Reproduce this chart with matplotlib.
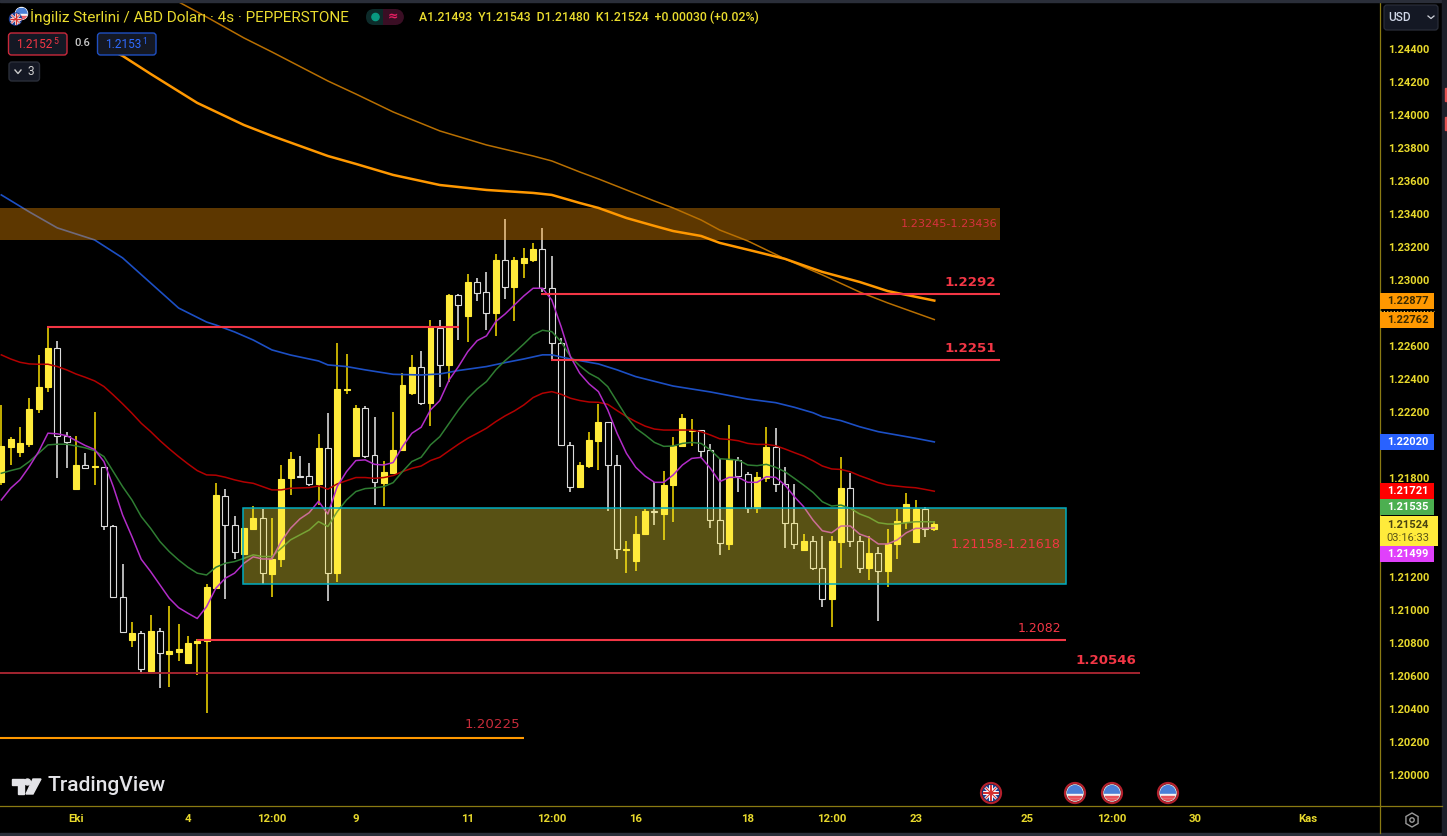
import matplotlib
matplotlib.use("Agg")
import matplotlib.pyplot as plt
from matplotlib.patches import Rectangle, Circle, FancyBboxPatch, Polygon, RegularPolygon

plt.rcParams['font.family'] = ['Roboto', 'DejaVu Sans']

# ---- data: prices in units of 0.00001 ----
open_ = [121775,121992,121957,122006,122218,122354,122590,122054,121733,121877,
         121866,121870,121511,121080,120819,120862,120633,120874,120736,120748,
         120678,120803,120815,121137,121695,121517,121339,121490,121559,121219,
         121310,121800,121814,121812,121763,121984,121227,122333,121935,122226,
         121943,121773,121834,121971,122317,122473,122258,122711,122489,122909,
         122784,122988,122928,122802,123122,122962,123104,123126,123188,122956,
         122620,122002,121745,121874,122028,122139,121882,121363,121298,121461,
         121599,121585,121756,121993,122086,122090,121971,121546,121403,121912,
         121823,121619,121803,121989,121765,121528,121366,121417,121257,121065,
         121415,121740,121417,121255,121344,121237,121403,121536,121415,121611,121493]
close = [121996,122036,122014,122220,122356,122592,122054,122022,121877,121864,
         121872,121511,121080,120866,120864,120641,120874,120738,120750,120763,
         120803,120815,121141,121701,121517,121351,121500,121559,121228,121310,
         121796,121919,121810,121763,121984,121228,122339,122339,122226,121935,
         121775,121836,121971,122368,122473,122258,122715,122489,122911,122849,
         122988,122922,122804,123124,122962,123124,123136,123188,122954,122620,
         122004,121745,121878,122032,122139,121882,121369,121369,121464,121599,
         121593,121758,121995,122167,122090,121965,121546,121409,121914,121815,
         121619,121807,121989,121763,121526,121403,121417,121255,121065,121417,
         121742,121421,121255,121346,121237,121401,121542,121641,121611,121492,121524]
high = [122244,122048,122109,122285,122546,122716,122635,122079,122054,121955,
        122202,121870,121519,121278,120928,120876,120971,120894,121023,120916,
        120845,120823,121157,121773,121737,121573,121500,121632,121614,121559,
        121879,121961,121933,121891,122067,122198,122618,122552,122242,122238,
        122174,121907,122204,122436,122546,122570,122760,122760,122918,122918,
        123037,123013,123049,123160,123372,123140,123197,123227,123316,123148,
        122649,122018,121899,122081,122250,122143,121939,121419,121571,121611,
        121777,121841,122050,122191,122161,122090,122007,121914,122120,121930,
        121837,121837,122108,122102,121866,121767,121459,121449,121449,121449,
        121926,121833,121449,121447,121382,121494,121611,121708,121665,121623,121543]
low = [121759,121881,121927,121992,122198,122325,121804,121864,121733,121864,
       121757,121484,121080,120866,120777,120611,120621,120528,120536,120694,
       120678,120605,120374,121137,121066,121308,121339,121490,121159,121078,
       121260,121697,121810,121755,121638,121058,121173,122311,121931,121921,
       121638,121634,121834,121967,122305,122246,122117,122351,122384,122639,
       122624,122877,122699,122665,122889,122754,123013,123114,122932,122513,
       121994,121719,121745,121864,121850,121603,121312,121223,121235,121461,
       121518,121425,121536,121987,121997,121926,121496,121332,121366,121714,
       121591,121591,121779,121714,121378,121372,121358,121243,121019,120899,
       121253,121382,121225,121182,120936,121142,121312,121494,121415,121441,121480]

ma_magenta = [121668,121739,121790,121870,121961,122073,122069,122058,122028,121998,
              121974,121901,121749,121577,121446,121308,121234,121153,121072,121015,
              120981,120949,121021,121133,121193,121224,121284,121323,121310,121310,
              121416,121496,121553,121591,121660,121583,121749,121840,121907,121911,
              121884,121880,121895,121992,122072,122109,122214,122271,122396,122477,
              122568,122634,122663,122750,122796,122851,122905,122952,122952,122881,
              122719,122537,122436,122372,122325,122214,122072,121951,121866,121813,
              121775,121775,121819,121880,121920,121926,121860,121779,121805,121805,
              121775,121775,121809,121805,121758,121688,121627,121546,121481,121469,
              121510,121510,121461,121441,121401,121401,121425,121469,121496,121496,121499]
ma_green = [121830,121846,121860,121901,121951,122002,122006,122006,121996,121984,
            121967,121931,121840,121749,121668,121567,121496,121416,121355,121304,
            121260,121224,121213,121260,121284,121294,121314,121335,121325,121325,
            121375,121426,121456,121486,121537,121507,121597,121668,121719,121737,
            121741,121749,121773,121840,121901,121927,122002,122052,122133,122214,
            122285,122341,122386,122457,122513,122562,122614,122669,122697,122689,
            122628,122537,122481,122436,122406,122355,122264,122174,122103,122062,
            122017,121993,121995,122011,122017,122011,121971,121918,121914,121910,
            121880,121876,121884,121866,121839,121799,121758,121714,121657,121631,
            121637,121617,121583,121562,121530,121522,121522,121530,121536,121536,121535]
ma_red = [122548,122523,122503,122493,122491,122491,122477,122457,122432,122412,
          122390,122356,122305,122251,122194,122133,122083,122028,121978,121931,
          121887,121846,121820,121818,121806,121790,121777,121769,121749,121729,
          121729,121739,121741,121743,121753,121733,121765,121785,121804,121804,
          121799,121804,121816,121840,121860,121874,121907,121927,121967,122006,
          122042,122072,122103,122143,122178,122208,122244,122289,122315,122325,
          122309,122285,122271,122262,122260,122248,122210,122174,122143,122116,
          122098,122092,122092,122092,122092,122082,122062,122039,122035,122027,
          122011,122005,122005,121997,121977,121955,121934,121906,121874,121856,
          121853,121839,121815,121795,121773,121758,121752,121746,121742,121732,121721]
blue_idx = [0,3,6,10,13,16,19,22,23,25,27,29,31,34,35,37,39,42,45,47,49,52,54,56,58,59,
            61,64,66,68,72,76,80,83,85,87,88,90,92,94,96,98,100]
blue_val = [123518,123415,123318,123245,123136,122984,122832,122747,122729,122687,122638,
            122578,122547,122511,122487,122477,122457,122430,122426,122432,122453,122477,
            122501,122523,122548,122548,122523,122493,122457,122416,122359,122323,122280,
            122258,122230,122197,122173,122149,122112,122082,122062,122042,122020]
thick_idx = [11,13,16,21,26,29,35,38,42,47,52,57,59,62,64,67,70,72,75,77,81,84,88,92,95,100]
thick_val = [124415,124361,124252,124076,123942,123876,123754,123706,123639,123578,123548,
             123530,123518,123469,123439,123378,123330,123299,123269,123227,123172,123130,
             123051,122990,122935,122877]
thin_idx = [18,22,26,29,35,38,42,47,52,57,59,62,64,70,72,75,77,80,84,88,92,95,100]
thin_val = [124719,124597,124470,124385,124209,124130,124021,123906,123821,123754,123724,
            123657,123615,123481,123439,123366,123305,123239,123130,123033,122929,122863,122762]

price_ticks = [1.20000,1.20200,1.20400,1.20600,1.20800,1.21000,1.21200,1.21400,1.21600,1.21800,
               1.22000,1.22200,1.22400,1.22600,1.22800,1.23000,1.23200,1.23400,1.23600,1.23800,
               1.24000,1.24200,1.24400]
# these axis labels sit behind the price badges in the reference
hidden_ticks = [1.21400, 1.21600, 1.22000, 1.22800]
time_idx = [8,20,29,38,50,59,68,80,89,98,110,119,128,140]
time_labels = ['Eki','4','12:00','9','11','12:00','16','18','12:00','23','25','12:00','30','Kas']

zone_brown = (1.23245, 1.23436, 107.04)
zone_olive = (1.21158, 1.21618, 25.9, 114.1)
red_levels = [(1.22917,57.8,107.04),(1.22515,58.9,107.04),(1.22715,4.9,49.06),(1.20820,20.97,114.1)]
level_20546 = (1.20618, 122.05)
level_20225 = (1.20224, 56.0)

SCALE = 1e5
W, H = 1447, 836
YELLOW = '#ffeb3b'; WICK_Y = '#c4ae00'; WHITE_B = '#dcdcdc'; WICK_H = '#b8b8b8'
AXC = '#8a7a12'; TXT = '#e8d92c'; RED = '#f23645'

fig = plt.figure(figsize=(W/100, H/100), dpi=100, facecolor='black')
ax = fig.add_axes([0, (H-806)/H, 1380/W, 806/H], facecolor='black')
ax.set_xlim(-0.14, 147.77)
ax.set_ylim(1.19812, 1.24700)

xs = list(range(len(open_)))
up = [c >= o for o, c in zip(open_, close)]
for i in xs:
    ax.vlines(i, low[i]/SCALE, high[i]/SCALE, color=WICK_Y if up[i] else WICK_H, lw=1.4, zorder=2)
    b = min(open_[i], close[i])/SCALE
    h = abs(close[i]-open_[i])/SCALE
    if up[i]:
        ax.bar(i, h, bottom=b, width=0.64, color=YELLOW, edgecolor=YELLOW, lw=0.8, zorder=3)
    else:
        ax.bar(i, h, bottom=b, width=0.64, color='black', edgecolor=WHITE_B, lw=0.8, zorder=3)

def P(v): return [a/SCALE for a in v]
ax.plot(blue_idx, P(blue_val), color='#1c4fc4', lw=1.2, zorder=4)
ax.plot(xs, P(ma_red), color='#b30000', lw=1.1, zorder=4)
ax.plot(xs, P(ma_green), color='#2f7d32', lw=1.1, zorder=4)
ax.plot(xs, P(ma_magenta), color='#b22cc8', lw=1.1, zorder=4)

# zones sit over the candles, translucent
ax.add_patch(Rectangle((-1, zone_brown[0]), zone_brown[2]+1, zone_brown[1]-zone_brown[0],
                       facecolor='#ff9800', alpha=0.37, edgecolor='none', zorder=5))
ax.add_patch(Rectangle((zone_olive[2], zone_olive[0]), zone_olive[3]-zone_olive[2], zone_olive[1]-zone_olive[0],
                       facecolor='#ffeb3b', alpha=0.35, edgecolor='none', zorder=5))
ax.add_patch(Rectangle((zone_olive[2], zone_olive[0]), zone_olive[3]-zone_olive[2], zone_olive[1]-zone_olive[0],
                       facecolor='none', edgecolor='#00acc1', lw=1.1, zorder=6))

ax.plot(thin_idx, P(thin_val), color='#b86f00', lw=1.1, zorder=6)
ax.plot(thick_idx, P(thick_val), color='#ff9800', lw=1.8, zorder=6)

for p, a, b in red_levels:
    ax.hlines(p, a, b, color=RED, lw=1.5, zorder=7)
ax.hlines(level_20546[0], -1, level_20546[1], color='#a32530', lw=1.4, zorder=7)
ax.hlines(level_20225[0], -1, level_20225[1], color='#ff9800', lw=1.5, zorder=7)

ax.yaxis.tick_right()
ax.set_yticks(price_ticks)
ax.set_yticklabels(['' if t in hidden_ticks else f'{t:.5f}' for t in price_ticks],
                   color=TXT, fontsize=8.0, fontweight='bold')
ax.set_xticks(time_idx)
ax.set_xticklabels(time_labels, color=TXT, fontsize=8.2, fontweight='bold')
ax.tick_params(axis='y', length=0, pad=5.5)
ax.tick_params(axis='x', length=0, pad=5.5)
for s in ('top', 'left'):
    ax.spines[s].set_visible(False)
for s in ('right', 'bottom'):
    ax.spines[s].set_color(AXC); ax.spines[s].set_linewidth(0.9)

# ---- overlay in pixel coordinates ----
ui = fig.add_axes([0, 0, 1, 1], facecolor='none')
ui.set_xlim(0, W); ui.set_ylim(H, 0); ui.axis('off')

# frame
ui.add_patch(Rectangle((0, 0), W, 2, color='#2a2e39', zorder=1))
ui.add_patch(Rectangle((0, 833), W, 3, color='#2a2e39', zorder=1))
ui.add_patch(Rectangle((1442, 0), 5, H, color='#1c1f29', zorder=1))
ui.add_patch(Rectangle((1445, 88), 2, 13, color='#e05050', zorder=2))
ui.add_patch(Rectangle((1445, 117), 2, 13, color='#e05050', zorder=2))
ui.plot([1380, 1380], [806, 833], color=AXC, lw=0.9)
ui.plot([1380, 1442], [806, 806], color=AXC, lw=0.9)

def flag_uk(x, y, r, z=10):
    c = Circle((x, y), r, color='#1f3f94', zorder=z); ui.add_patch(c)
    for dx, dy, col, lw in [(1,1,'white',2.2),(1,-1,'white',2.2),(1,0,'white',2.8),(0,1,'white',2.8),
                            (1,1,'#d32f2f',0.8),(1,-1,'#d32f2f',0.8),(1,0,'#d32f2f',1.4),(0,1,'#d32f2f',1.4)]:
        l, = ui.plot([x-dx*r, x+dx*r], [y-dy*r, y+dy*r], color=col, lw=lw*r/8, zorder=z+1, solid_capstyle='butt')
        l.set_clip_path(c)

def flag_us(x, y, r, z=10):
    c = Circle((x, y), r, color='white', zorder=z); ui.add_patch(c)
    for yy, hh, col in [(y-r, r*1.05, '#4a7fd6'), (y+0.12*r, r*0.28, '#f5f5f5'),
                        (y+0.40*r, r*0.30, '#e8525a'), (y+0.70*r, r*0.1, '#f5f5f5'), (y+0.80*r, r*0.25, '#e8525a')]:
        rc = Rectangle((x-r, yy), 2*r, hh, color=col, zorder=z+1); ui.add_patch(rc); rc.set_clip_path(c)

# event icons
event_x = [991, 1075, 1112, 1168]
for k, ex in enumerate(event_x):
    ui.add_patch(Circle((ex, 793), 10, facecolor='#101010', edgecolor='#b3202c', lw=1.6, zorder=9))
    (flag_uk if k == 0 else flag_us)(ex, 793, 8)

# header
flag_us(21.5, 13.5, 6, 10)
flag_uk(15.5, 19, 6, 12)
ui.text(30, 17, 'İngiliz Sterlini / ABD Doları · 4s · PEPPERSTONE', color='#eadc2e', fontsize=11.0,
        va='center', ha='left', zorder=20)
ui.add_patch(FancyBboxPatch((366, 9), 34, 16, boxstyle='round,pad=0,rounding_size=8',
                            facecolor='#0d2b2a', edgecolor='none', zorder=15))
ui.add_patch(Rectangle((383, 9), 13, 16, facecolor='#3a0e24', edgecolor='none', zorder=16))
ui.add_patch(Circle((396, 17), 7.9, facecolor='#3a0e24', edgecolor='none', zorder=15.5))
ui.add_patch(Circle((375.5, 17), 3.6, color='#089981', zorder=17))
ui.text(393, 17, '≈', color='#e91e63', fontsize=9, ha='center', va='center', zorder=17, family=['DejaVu Sans'], fontweight='bold')
ui.text(419, 17, 'A1.21493  Y1.21543  D1.21480  K1.21524  +0.00030 (+0.02%)', color='#eadc2e', fontsize=8.8,
        fontweight='medium', va='center', ha='left', zorder=20)

def chip(x0, y0, x1, y1, ec):
    ui.add_patch(FancyBboxPatch((x0, y0), x1-x0, y1-y0, boxstyle='round,pad=0,rounding_size=3',
                                facecolor='#141824', edgecolor=ec, lw=1.0, zorder=15))
chip(8.5, 33, 67, 55, '#c9293b')
ui.text(16, 44.5, '1.2152', color=RED, fontsize=8.6, va='center', zorder=20)
ui.text(53, 41.5, '5', color=RED, fontsize=6.2, va='center', zorder=20)
ui.text(82, 43.5, '0.6', color='#c8c8c8', fontsize=8, va='center', ha='center', zorder=20, fontweight='medium')
chip(97.5, 33, 156, 55, '#1f4fc0')
ui.text(105, 44.5, '1.2153', color='#2f6bff', fontsize=8.6, va='center', zorder=20)
ui.text(142, 41.5, '1', color='#2f6bff', fontsize=6.2, va='center', zorder=20)
chip(9, 62, 39.5, 81, '#2a2e39')
ui.plot([15, 18, 21], [70, 73.5, 70], color='#c8c8c8', lw=1, zorder=20)
ui.text(28, 71.5, '3', color='#d0d0d0', fontsize=8.5, va='center', zorder=20)

# USD box
ui.add_patch(FancyBboxPatch((1384, 5), 54, 25, boxstyle='round,pad=0,rounding_size=3',
                            facecolor='#141824', edgecolor='#2a2e39', lw=0.9, zorder=15))
ui.text(1388, 17.5, 'USD', color='#d1d8e8', fontsize=8.6, va='center', zorder=20, fontweight='medium')
ui.plot([1428, 1431, 1434], [16, 18.5, 16], color='#d1d4dc', lw=0.9, zorder=20)

# price badges
badge_text = ['1.22877', '1.22762', '1.22020', '1.21721', '1.21535', '1.21499']
badge_col = ['#ff9800', '#ff9800', '#2962ff', '#ff0000', '#4caf50', '#e040fb']
badge_fg = ['#3a2a00', '#3a2a00', 'white', 'white', 'white', 'white']
badge_top = [293, 312, 434, 483, 499, 546]
for t, c, f, yt in zip(badge_text, badge_col, badge_fg, badge_top):
    ui.add_patch(Rectangle((1380, yt), 54, 16, facecolor=c, edgecolor='none', zorder=15))
    ui.text(1408, yt+8, t, color=f, fontsize=8.0, fontweight='bold', ha='center', va='center', zorder=20)
ui.add_patch(Rectangle((1380, 516), 58, 30, facecolor='#ffeb3b', edgecolor='none', zorder=15))
ui.text(1408, 524.5, '1.21524', color='#4a4410', fontsize=8.0, fontweight='bold', ha='center', va='center', zorder=20)
ui.text(1408, 538, '03:16:33', color='#5c5518', fontsize=8, ha='center', va='center', zorder=20)
ui.plot([1380, 1434], [311, 311], color='#ffd54f', lw=0.8, ls=(0, (1, 2)), zorder=16)

# level labels
labels = [('1.23245-1.23436', 997, 224, 8.1, '#d8313f', 'normal'), ('1.2292', 996, 282, 9.6, RED, 'bold'),
          ('1.2251', 996, 348, 9.6, RED, 'bold'), ('1.21158-1.21618', 1061, 545, 9.2, RED, 'normal'),
          ('1.2082', 1061, 628, 9.0, RED, 'normal'), ('1.20546', 1136, 660, 9.6, RED, 'bold'),
          ('1.20225', 520, 725, 9.6, '#c72c3a', 'normal')]
for t, x, y, fs, c, wt in labels:
    ui.text(x, y, t, color=c, fontsize=fs, ha='right', va='center', family=['DejaVu Sans'], fontweight=wt, zorder=20)

# watermark
ui.add_patch(Polygon([(11.5, 779), (23.5, 779), (23.5, 794), (18, 794), (18, 785), (11.5, 785)], color='#e4e4e8', zorder=20))
ui.add_patch(Circle((27.5, 782), 3, color='#e4e4e8', zorder=20))
ui.add_patch(Polygon([(33, 779), (41, 779), (33, 794), (26, 794)], color='#e4e4e8', zorder=20))
ui.text(47, 785.5, 'TradingView', color='#e4e4e8', fontsize=15.1, fontweight='medium', va='center', ha='left', zorder=20)

# settings icon
ui.add_patch(RegularPolygon((1412, 820), 6, radius=7, orientation=0, facecolor='none', edgecolor='#9a9a9a', lw=1, zorder=20))
ui.add_patch(Circle((1412, 820), 2.2, facecolor='none', edgecolor='#9a9a9a', lw=1, zorder=20))

fig.savefig('out.png', dpi=100, facecolor='black')
